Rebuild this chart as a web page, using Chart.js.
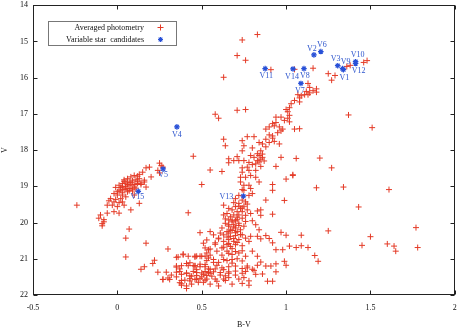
<!DOCTYPE html>
<html><head><meta charset="utf-8">
<script src="https://cdn.jsdelivr.net/npm/chart.js@4.4.0/dist/chart.umd.min.js"></script>
<style>html,body{margin:0;padding:0;background:#fff}</style>
</head><body>
<canvas id="c" width="460" height="332"></canvas>
<script>
// ---- tick labels ----
const xTickValues = [-0.5, 0, 0.5, 1, 1.5, 2];
const yTickValues = [14, 15, 16, 17, 18, 19, 20, 21, 22];
const xTitle = 'B-V';
const yTitle = 'V';
const seriesNames = ['Averaged photometry', 'Variable star  candidates'];

// ---- variable star candidates ----
const varNames = ['V1','V2','V3','V4','V5','V6','V7','V8','V9','V10','V11','V12','V13','V14','V15'];
const varBV = [1.34,1.165,1.306,0.353,0.271,1.206,1.088,1.106,1.335,1.412,0.876,1.412,0.747,1.041,0.124];
const varV  = [15.78,15.37,15.67,17.36,18.52,15.28,16.16,15.75,15.75,15.56,15.75,15.61,19.27,15.76,19.14];

// ---- averaged photometry: [B-V, V] ----
const giantStars = [[0.83,14.81],[0.74,14.96],[0.71,15.39],[0.76,15.52],[0.91,15.78],[1.05,15.77],[1.16,15.74],[1.25,15.89],[1.29,15.94],[1.27,16.07],[1.36,15.69],[1.38,15.66],[1.46,15.58],[1.48,15.53],[1.13,16.16],
[1.18,16.31],[1.16,16.36],[1.14,16.42],[1.18,16.40],[1.13,16.47],[1.11,16.47],[1.09,16.50],[1.07,16.47],[1.12,16.38],[1.14,16.27],[1.08,16.56],[1.05,16.63],[1.08,16.67],[1.03,16.72],[1.02,16.83],[1.00,16.88],[1.01,16.94],[1.02,17.04],[1.01,17.12],[1.02,17.22],[0.99,17.18],[0.97,17.09],[0.94,17.09],[0.94,17.24],[0.93,17.33],[0.92,17.27],[0.96,17.36],[0.97,17.47],[0.95,17.52],[0.98,17.42],[0.90,17.36],[0.88,17.42],[0.90,17.58],[0.92,17.61],[0.92,17.67],[0.90,17.79],[0.93,17.76],[0.88,17.70],[0.86,17.83],[0.96,17.83],[0.88,17.91],[0.85,18.02],[0.86,18.11],[0.84,18.15],[0.86,18.20],[0.85,18.25],[0.83,18.29],[0.81,18.20],[0.82,18.38],[0.85,18.45],[0.82,18.56],[0.78,18.56],[0.79,18.70],[0.82,18.75],[0.76,18.75],[0.74,18.61],[0.77,18.47],[0.75,18.29],[0.74,18.49],[0.94,18.45],[0.97,18.20],[1.05,17.42],[1.08,17.41],[1.06,18.23],[1.20,18.22],[1.27,18.49],[1.04,18.70],[1.37,17.03],[1.51,17.38],[0.71,16.90],[0.76,16.88],[0.77,17.63],[0.81,17.63],[0.75,17.88],[0.80,17.94],[0.74,17.74],[0.84,17.79],[0.63,15.99],[0.58,17.01],[0.60,17.12],[0.63,17.70],[0.64,17.88],[0.45,18.17],[0.66,18.35],[0.66,18.24],[0.69,18.29],[0.71,18.18],[0.74,18.02],[0.73,18.75],[0.78,18.34],[0.72,18.29],[0.83,18.10],[0.80,18.40],[0.84,18.33],[0.79,18.15],[0.87,18.30]];

const turnoffStars = [[0.74,19.38],[0.76,19.43],[0.72,19.47],[0.75,19.55],[0.77,19.49],[0.73,19.61],[0.70,19.56],[0.68,19.65],[0.66,19.61],[0.71,19.70],[0.74,19.70],[0.77,19.65],[0.79,19.75],[0.72,19.79],[0.69,19.79],[0.67,19.84],[0.65,19.75],[0.63,19.79],[0.66,19.93],[0.68,19.93],[0.71,19.91],[0.74,19.88],[0.76,19.97],[0.72,20.02],[0.69,20.06],[0.66,20.06],[0.64,20.02],[0.70,20.15],[0.73,20.20],[0.71,20.25],[0.68,20.22],[0.66,20.29],[0.65,20.25],[0.63,20.34],[0.61,20.29],[0.67,20.38],[0.70,20.36],[0.74,20.34],[0.76,20.43],[0.79,20.38],[0.78,20.52],[0.72,20.47],[0.69,20.52],[0.66,20.47],[0.63,20.52],[0.60,20.43],[0.57,20.34],[0.55,20.25],[0.58,20.56],[0.65,20.61],[0.67,20.66],[0.70,20.61],[0.74,20.64],[0.82,20.06],[0.84,20.20],[0.85,20.45],[0.92,20.56],[0.80,20.79],[0.83,20.93],[0.76,20.93],[0.72,20.84],[0.68,20.88],[0.65,20.79],[0.62,20.70],[0.59,20.79],[0.55,20.73],[0.52,20.93],[0.49,20.93],[0.46,20.93],[0.57,21.02],[0.63,21.02],[0.68,21.02],[0.74,21.06],[0.70,21.20],[0.66,21.22],[0.62,21.25],[0.59,21.18],[0.55,21.29],[0.52,21.22],[0.49,21.15],[0.46,21.20],[0.43,21.11],[0.47,21.38],[0.51,21.43],[0.54,21.38],[0.57,21.36],[0.61,21.38],[0.64,21.47],[0.66,21.36],[0.70,21.34],[0.74,21.27],[0.77,21.25],[0.80,21.29],[0.82,21.43],[0.75,21.52],[0.78,21.61],[0.72,21.56],[0.66,21.52],[0.63,21.56],[0.58,21.56],[0.53,21.56],[0.51,21.65],[0.47,21.56],[0.43,21.47],[0.77,21.20],
[0.50,18.95],[0.73,18.88],[0.75,18.97],[0.78,18.97],[0.79,19.06],[0.84,18.88],[0.74,19.09],[0.75,19.11],[0.78,19.25],[0.80,19.20],[0.72,19.25],[0.70,19.34],[0.63,19.52],
[0.68,19.98],[0.70,19.95],[0.66,20.10],[0.69,20.12],[0.72,20.08],[0.67,20.20],[0.70,20.28],[0.73,20.33],[0.65,20.40],[0.69,20.44],[0.71,20.55],[0.66,20.58],[0.63,20.68],[0.68,20.72],[0.70,20.80],[0.74,20.78],[0.66,20.85],[0.62,20.90],[0.71,21.00],[0.65,21.05],[0.60,21.10],[0.68,21.12],[0.63,21.30],[0.58,21.28],[0.66,21.40],[0.61,21.45],[0.56,21.48],[0.70,21.45],[0.64,21.60],[0.59,21.62],[0.55,21.40],[0.52,21.35],[0.50,21.50],[0.72,19.55],[0.69,19.45],[0.74,19.60],[0.71,19.85],[0.76,19.80],[0.64,19.90],[0.75,20.10],[0.62,20.15],[0.60,20.45],[0.58,20.60],[0.55,20.90],[0.57,21.10],[0.53,21.05],[0.74,21.40],[0.76,21.35],[0.45,21.35],[0.48,21.65],[0.44,21.70],[0.55,21.70],[0.60,21.75],[0.68,21.70],[0.35,21.50],[0.32,21.45]];

const lowerStars = [[0.55,18.55],[0.62,18.59],[0.42,19.73],[0.49,20.28],[0.35,20.96],[0.39,20.87],[0.42,20.93],[0.47,20.93],[0.46,21.19],[0.35,21.23],[0.38,21.19],[0.42,21.19],[0.24,21.37],[0.30,21.53],[0.27,21.57],[0.37,21.35],[0.41,21.41],[0.43,21.55],[0.38,21.60],[0.38,21.69],[0.41,21.75],
[0.05,20.43],[0.17,20.57],[0.05,20.95],[0.30,20.73],[0.36,20.95],[0.39,20.89],[0.46,20.95],[0.50,20.93],[0.53,20.84],[0.54,20.98],[0.51,20.57],[0.53,20.48],[0.54,20.75],[0.52,20.70],[0.22,21.04],[0.21,21.13],[0.16,21.22],[0.14,21.29],[0.35,21.20],[0.37,21.28],[0.41,21.13],[0.45,21.19],[0.47,21.30],[0.49,21.22],[0.52,21.16],[0.54,21.28],[0.38,21.43],[0.41,21.39],[0.44,21.48],[0.47,21.46],[0.50,21.39],[0.53,21.46],[0.31,21.57],[0.27,21.57],[0.37,21.66],[0.40,21.59],[0.43,21.61],[0.46,21.57],[0.49,21.55],[0.52,21.59],[0.41,21.82],[0.38,21.73],[0.35,21.37],[0.29,21.37]];

const hbStars = [[-0.24,19.52],[-0.08,19.98],[0.25,18.36],[0.26,18.43],[0.24,18.56],[0.25,18.63],[0.27,18.47],[0.17,18.49],[0.15,18.61],[0.13,18.67],[0.12,18.72],[0.10,18.70],[0.08,18.74],[0.06,18.79],[0.04,18.82],[0.11,18.82],[0.13,18.79],[0.16,18.83],[0.09,18.85],[0.07,18.88],[0.05,18.91],[0.03,18.92],[0.01,18.97],[-0.01,19.03],[0.02,19.03],[0.05,19.00],[0.08,18.97],[0.10,19.02],[0.12,18.92],[0.14,18.91],[0.07,19.06],[0.04,19.09],[0.01,19.13],[0.00,19.15],[0.03,19.18],[0.06,19.15],[0.09,19.13],[-0.02,19.20],[0.00,19.24],[0.03,19.24],[0.05,19.29],[0.02,19.34],[-0.01,19.36],[-0.04,19.34],[-0.05,19.40],[-0.02,19.43],[0.01,19.45],[0.03,19.43],[-0.06,19.52],[-0.03,19.52],[0.00,19.56],[0.04,19.52],[0.10,19.24],[0.13,19.47],[0.08,19.65],[0.01,19.74],[-0.02,19.70],[-0.06,19.74],[-0.10,19.79],[-0.08,19.92],[-0.09,20.03],[-0.09,20.09],[-0.11,19.88],[0.07,20.18],[0.19,18.47],[0.20,18.74],[0.16,18.88],[0.17,19.02],
[0.06,18.95],[0.08,18.90],[0.05,19.05],[0.09,19.08],[0.03,19.00],[0.07,19.12],[0.10,18.95],[0.04,18.86],[0.12,18.86],[0.02,19.10],[0.14,18.95],[0.11,19.05]];

const fieldStars = [[1.04,18.68],[1.00,18.80],[0.92,18.95],[0.92,19.11],[1.18,19.04],[1.34,19.02],[1.61,19.09],[0.88,19.38],[0.99,19.39],[1.43,19.57],[0.92,19.77],[0.85,19.80],[0.83,19.68],[0.85,19.65],[0.80,19.95],[0.97,20.27],[1.00,20.35],[1.09,20.35],[1.25,20.23],[1.50,20.39],[1.77,20.14],[0.88,20.36],[0.83,20.38],[0.90,20.44],[0.94,20.75],[0.98,20.75],[1.02,20.65],[1.06,20.69],[1.09,20.64],[1.13,20.69],[1.17,20.91],[1.19,21.07],[1.45,20.63],[1.60,20.59],[1.64,20.65],[1.65,20.79],[1.78,20.69],[0.88,21.20],[0.91,21.20],[0.94,21.14],[0.94,21.36],[1.00,21.18],[0.99,21.07],[0.86,21.42],[0.89,21.62],[0.92,21.62],[0.85,21.09],[0.83,21.18],[0.81,21.32],[0.74,21.68],[0.78,21.73]];

const photometry = [].concat(giantStars, turnoffStars, lowerStars, hbStars, fieldStars);

// ---- styles ----
const RED = 'rgb(228,58,38)';
const BLUE = 'rgb(40,80,215)';
const LABEL_BLUE = 'rgb(45,85,205)';
const FONT = '"Liberation Serif", "DejaVu Serif", serif';
const labelOffsets = [[1,8],[-2,-6],[-2,-7],[0,8],[0,6],[1,-7],[-1,7],[1,7],[3,-7],[2,-7],[1,7],[3,7],[-17,1],[-1,8],[-1,6]];

const framePlugin = {
  id: 'frame',
  afterDatasetsDraw(chart) {
    const ctx = chart.ctx, a = chart.chartArea;
    const xs = chart.scales.x, ys = chart.scales.y;
    const L = Math.round(a.left) + 0.5, R = Math.round(a.right) - 0.5;
    const T = Math.round(a.top) + 0.5, B = Math.round(a.bottom) - 0.5;
    ctx.save();
    ctx.strokeStyle = '#222';
    ctx.lineWidth = 1;
    ctx.beginPath();
    xTickValues.forEach(v => {
      const p = Math.round(xs.getPixelForValue(v)) + 0.5;
      ctx.moveTo(p, B); ctx.lineTo(p, B - 4);
      ctx.moveTo(p, T); ctx.lineTo(p, T + 4);
    });
    yTickValues.forEach(v => {
      const p = Math.round(ys.getPixelForValue(v)) + 0.5;
      ctx.moveTo(L, p); ctx.lineTo(L + 4, p);
      ctx.moveTo(R, p); ctx.lineTo(R - 4, p);
    });
    ctx.stroke();
    ctx.strokeRect(L, T, R - L, B - T);
    // variable star labels
    ctx.fillStyle = LABEL_BLUE;
    ctx.font = '8px ' + FONT;
    ctx.textAlign = 'center';
    ctx.textBaseline = 'middle';
    varNames.forEach((n, i) => {
      const px = xs.getPixelForValue(varBV[i]) + labelOffsets[i][0];
      const py = ys.getPixelForValue(varV[i]) + labelOffsets[i][1];
      ctx.fillText(n, px, py);
    });
    // legend
    ctx.strokeStyle = '#777';
    ctx.strokeRect(48.5, 21.5, 128, 24);
    ctx.fillStyle = '#111';
    ctx.textAlign = 'right';
    ctx.fillText(seriesNames[0], 144, 27.5);
    ctx.fillText(seriesNames[1], 144, 39.5);
    ctx.strokeStyle = RED;
    ctx.beginPath();
    ctx.moveTo(157.5, 27.5); ctx.lineTo(163.5, 27.5);
    ctx.moveTo(160.5, 24.5); ctx.lineTo(160.5, 30.5);
    ctx.stroke();
    ctx.strokeStyle = BLUE;
    ctx.lineWidth = 1.2;
    ctx.beginPath();
    const cx = 160.5, cy = 39.5, r = 2.5;
    ctx.moveTo(cx - r, cy); ctx.lineTo(cx + r, cy);
    ctx.moveTo(cx, cy - r); ctx.lineTo(cx, cy + r);
    ctx.moveTo(cx - r*0.75, cy - r*0.75); ctx.lineTo(cx + r*0.75, cy + r*0.75);
    ctx.moveTo(cx - r*0.75, cy + r*0.75); ctx.lineTo(cx + r*0.75, cy - r*0.75);
    ctx.stroke();
    ctx.restore();
  }
};

function zeroPad(s) { s.paddingLeft = 0; s.paddingRight = 0; s.paddingTop = 0; s.paddingBottom = 0; }

new Chart(document.getElementById('c'), {
  type: 'scatter',
  data: {
    datasets: [
      {
        label: seriesNames[1],
        data: varBV.map((b, i) => ({x: b, y: varV[i]})),
        pointStyle: 'star', radius: 2.8, borderColor: BLUE, backgroundColor: BLUE, borderWidth: 1.2
      },
      {
        label: seriesNames[0],
        data: photometry.map(p => ({x: p[0], y: p[1]})),
        pointStyle: 'cross', radius: 3, borderColor: RED, backgroundColor: RED, borderWidth: 1
      }
    ]
  },
  options: {
    responsive: false, animation: false, devicePixelRatio: 1,
    layout: {padding: {left: 0, right: 3, top: 3, bottom: 0}},
    plugins: {legend: {display: false}, tooltip: {enabled: false}},
    scales: {
      x: {
        type: 'linear', min: -0.5, max: 2,
        afterBuildTicks: s => { s.ticks = xTickValues.map(v => ({value: v})); },
        afterFit: s => { s.height = 37; zeroPad(s); },
        grid: {display: false, drawTicks: false},
        border: {display: false},
        ticks: {font: {family: FONT, size: 8}, color: '#111', padding: 8, maxRotation: 0, callback: v => String(v)},
        title: {display: true, text: xTitle, font: {family: FONT, size: 8}, color: '#111', padding: {top: 0, bottom: 2}}
      },
      y: {
        type: 'linear', min: 14, max: 22, reverse: true,
        afterBuildTicks: s => { s.ticks = yTickValues.map(v => ({value: v})); },
        afterFit: s => { s.width = 33; zeroPad(s); },
        grid: {display: false, drawTicks: false},
        border: {display: false},
        ticks: {font: {family: FONT, size: 8}, color: '#111', padding: 5, callback: v => String(v)},
        title: {display: true, text: yTitle, font: {family: FONT, size: 8}, color: '#111', padding: 0}
      }
    }
  },
  plugins: [framePlugin]
});
</script>
</body></html>
